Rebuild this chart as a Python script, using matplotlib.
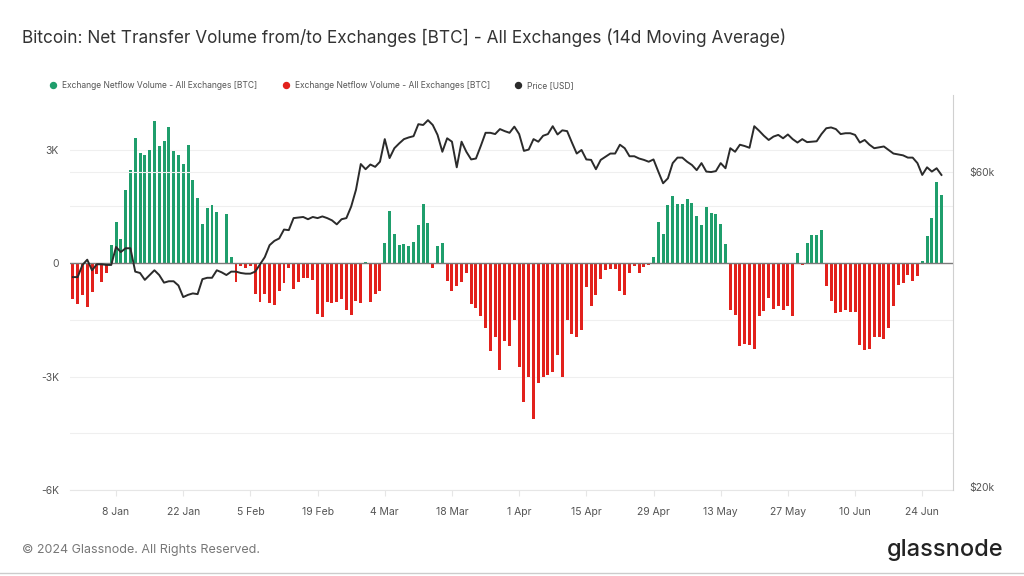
import numpy as np
import pandas as pd
import matplotlib
matplotlib.use("Agg")
import matplotlib.pyplot as plt
from matplotlib.lines import Line2D
from matplotlib.ticker import FixedLocator, NullLocator

plt.rcParams['font.family'] = ['Inter', 'DejaVu Sans']

# ============================================================
# DATA (14d MA netflow in thousand BTC, price in thousand USD)
# ============================================================

dates = pd.date_range("2023-12-30", "2024-06-28", freq="D")

flow_dec = [-0.95, -1.08]
flow_jan = [-0.85, -1.17, -0.75, -0.28, -0.49, -0.26, 0.47, 1.10, 0.65, 1.93,
            2.46, 3.32, 2.91, 2.87, 3.00, 3.76, 3.09, 3.23, 3.61, 2.98,
            2.87, 2.63, 3.12, 2.19, 1.73, 1.03, 1.47, 1.53, 1.35, 0.0, 1.31]
flow_feb = [0.17, -0.51, -0.08, -0.12, -0.08, -0.82, -1.02, -0.82, -1.06, -1.10,
            -0.73, -0.53, -0.14, -0.67, -0.49, -0.38, -0.38, -0.44, -1.34, -1.43,
            -1.02, -1.05, -1.02, -0.96, -1.25, -1.36, -0.99, -1.04, 0.04]
flow_mar = [-1.02, -0.82, -0.73, 0.53, 1.38, 0.76, 0.47, 0.50, 0.46, 0.56,
            1.00, 1.57, 1.07, -0.13, 0.46, 0.53, -0.46, -0.73, -0.60, -0.49,
            -0.25, -1.08, -1.18, -1.40, -1.71, -2.33, -1.96, -2.83, -2.07, -2.18, -1.49]
flow_apr = [-2.75, -3.67, -3.01, -4.12, -3.16, -3.01, -2.95, -2.88, -2.44, -3.01,
            -1.49, -1.87, -1.96, -1.78, -0.64, -1.12, -0.84, -0.42, -0.18, -0.16,
            -0.16, -0.73, -0.84, -0.26, -0.07, -0.25, -0.11, -0.04, 0.17, 1.10]
flow_may = [0.76, 1.55, 1.77, 1.57, 1.57, 1.70, 1.58, 1.26, 1.00, 1.48,
            1.32, 1.31, 1.03, 0.52, -1.25, -1.36, -2.19, -2.13, -2.16, -2.26,
            -1.40, -1.27, -0.92, -1.21, -1.14, -1.24, -1.12, -1.39, 0.26, -0.05, 0.53]
flow_jun = [0.74, 0.75, 0.89, -0.60, -0.99, -1.32, -1.30, -1.24, -1.28, -1.28,
            -2.16, -2.29, -2.28, -1.96, -1.96, -2.00, -1.71, -1.12, -0.57, -0.53,
            -0.32, -0.46, -0.33, 0.06, 0.72, 1.20, 2.15, 1.80]

price_dec = [41.6, 41.6]
price_jan = [43.4, 44.2, 42.6, 43.5, 43.5, 43.4, 43.4, 46.2, 45.4, 46.0,
             46.0, 42.4, 42.2, 41.2, 41.9, 42.6, 41.9, 40.8, 41.0, 41.0,
             40.4, 38.8, 39.1, 39.3, 39.2, 41.3, 41.5, 41.5, 42.6, 42.3, 41.9]
price_feb = [42.4, 42.4, 42.2, 42.1, 42.1, 42.4, 43.5, 44.6, 46.5, 47.2,
             47.6, 49.1, 49.0, 51.1, 51.2, 51.3, 50.9, 51.3, 51.1, 51.4,
             51.1, 50.7, 50.0, 50.9, 51.1, 53.2, 56.4, 61.7, 60.6]
price_mar = [61.6, 61.1, 62.2, 67.3, 63.0, 65.2, 66.3, 67.3, 67.7, 68.0,
             70.9, 70.7, 71.9, 70.7, 68.3, 64.4, 67.5, 66.7, 61.0, 66.7,
             64.4, 62.7, 62.9, 65.7, 68.8, 68.8, 68.5, 69.7, 69.2, 68.8, 70.3]
price_apr = [68.5, 64.6, 64.9, 67.3, 66.7, 68.1, 68.5, 70.4, 68.4, 69.4,
             69.2, 66.5, 64.0, 64.8, 62.7, 62.6, 60.6, 62.6, 63.3, 64.0,
             64.0, 66.0, 65.2, 63.4, 63.4, 62.9, 62.6, 62.2, 62.7, 60.1]
price_may = [57.7, 58.7, 61.9, 63.1, 63.1, 62.2, 61.5, 60.4, 61.9, 60.1,
             60.0, 60.2, 61.9, 60.8, 65.2, 64.4, 66.0, 65.7, 65.3, 70.4,
             69.3, 68.1, 67.1, 67.9, 68.3, 67.5, 68.4, 67.3, 66.5, 67.3, 66.6]
price_jun = [66.7, 66.8, 68.5, 69.9, 70.1, 69.7, 68.5, 68.7, 68.7, 68.3,
             66.5, 67.1, 66.0, 65.2, 65.4, 65.6, 64.8, 64.0, 63.8, 63.6,
             63.1, 63.1, 61.9, 59.4, 61.0, 60.1, 60.8, 59.4]

tick_dates = ["2024-01-08", "2024-01-22", "2024-02-05", "2024-02-19", "2024-03-04",
              "2024-03-18", "2024-04-01", "2024-04-15", "2024-04-29", "2024-05-13",
              "2024-05-27", "2024-06-10", "2024-06-24"]

netflow = 1000 * np.array(flow_dec + flow_jan + flow_feb + flow_mar + flow_apr + flow_may + flow_jun)
price = 1000 * np.array(price_dec + price_jan + price_feb + price_mar + price_apr + price_may + price_jun)

# ============================================================
# PLOT
# ============================================================

GREEN = "#1f9e6c"
RED = "#e2211c"
GREY = "#555555"

fig = plt.figure(figsize=(10.24, 5.76), dpi=100)
ax = fig.add_axes([0.0684, 0.1493, 0.8623, 0.6858])

colors = np.where(netflow >= 0, GREEN, RED)
ax.bar(dates, netflow, width=0.62, color=colors, zorder=2)
ax.axhline(0, color="#7a7a7a", lw=1.0, zorder=3)

ax.set_xlim(pd.Timestamp("2023-12-29 10:00"), pd.Timestamp("2024-06-30 10:00"))
ax.set_ylim(-6000, 4450)
ax.set_yticks([-6000, -3000, 0, 3000])
ax.set_yticklabels(["-6K", "-3K", "0", "3K"])
ax.yaxis.set_minor_locator(FixedLocator(np.arange(-4500, 4500, 1500)))
ax.grid(axis="y", which="both", color="#efefef", lw=0.8, zorder=0)
ax.tick_params(axis="y", which="both", length=0, labelsize=7.5, labelcolor=GREY, pad=8)

ticks = pd.to_datetime(tick_dates)
ax.set_xticks(ticks)
ax.set_xticklabels([f"{d.day} {d:%b}" for d in ticks])
ax.tick_params(axis="x", length=4, color="#e6e6e6", labelsize=7.5, labelcolor=GREY, pad=8)

for s in ["left", "top", "right"]:
    ax.spines[s].set_visible(False)
ax.spines["bottom"].set_color("#e6e6e6")

ax2 = ax.twinx()
ax2.plot(dates, price, color="#2b2b2b", lw=1.4, zorder=4)
ax2.set_yscale("log")
ax2.set_ylim(19800, 78500)
ax2.yaxis.set_major_locator(FixedLocator([20000, 60000]))
ax2.yaxis.set_minor_locator(NullLocator())
ax2.set_yticklabels(["$20k", "$60k"])
ax2.tick_params(axis="y", length=0, labelsize=7.5, labelcolor=GREY, pad=12)
ax2.axhline(60000, color="#efefef", lw=0.8, zorder=0)
for s in ["left", "top", "bottom"]:
    ax2.spines[s].set_visible(False)
ax2.spines["right"].set_color("#d0d0d0")

# title, legend, footer
fig.text(0.0215, 0.934, "Bitcoin: Net Transfer Volume from/to Exchanges [BTC] - All Exchanges (14d Moving Average)",
         fontsize=12.4, color="#333333", va="center")

handles = [
    Line2D([], [], marker="o", ls="", color=GREEN, markersize=4.3),
    Line2D([], [], marker="o", ls="", color=RED, markersize=4.3),
    Line2D([], [], marker="o", ls="", color="#2b2b2b", markersize=4.3),
]
labels = ["Exchange Netflow Volume - All Exchanges [BTC]",
          "Exchange Netflow Volume - All Exchanges [BTC]",
          "Price [USD]"]
fig.legend(handles, labels, loc="center left", bbox_to_anchor=(0.040, 0.852), ncol=3,
           frameon=False, fontsize=6.1, labelcolor=GREY, handletextpad=0.05,
           columnspacing=2.4, borderaxespad=0)

fig.text(0.0215, 0.045, "\u00a9 2024 Glassnode. All Rights Reserved.", fontsize=9, color="#777777", va="center")
fig.text(0.98, 0.045, "glassnode", fontsize=17, fontweight="medium", color="#222222", ha="right", va="center")
fig.add_artist(Line2D([0, 1], [0.006, 0.006], color="#cccccc", lw=1, transform=fig.transFigure))

fig.savefig("out.png", dpi=100, facecolor="white")
